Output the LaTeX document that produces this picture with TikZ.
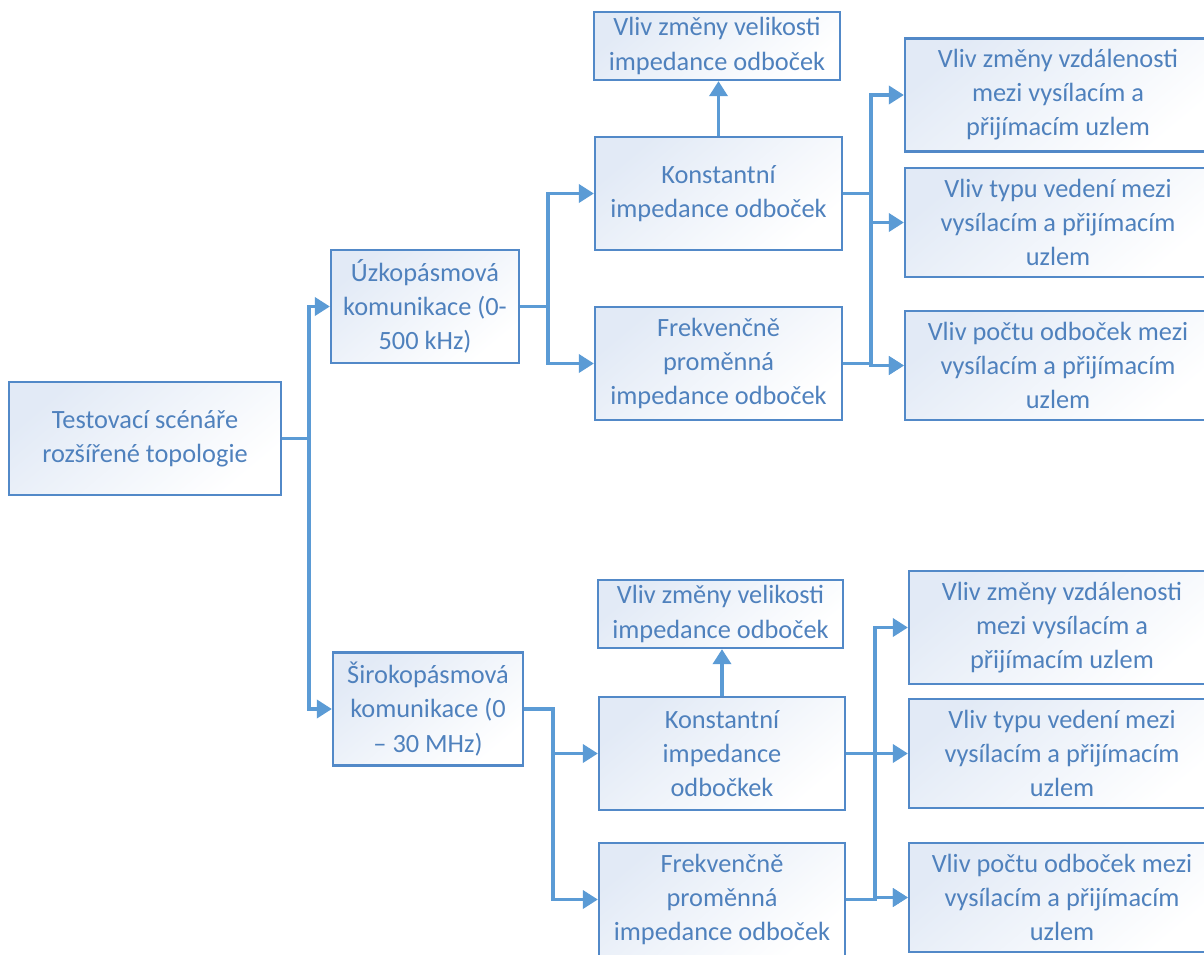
\documentclass[tikz,border=0pt]{standalone}
\usepackage{fontspec}
\setmainfont{Carlito}
\usetikzlibrary{arrows.meta, positioning}
\definecolor{linkblue}{HTML}{5B9BD5}
\definecolor{edgeblue}{HTML}{5289C8}
\definecolor{textblue}{HTML}{4F81BD}
\definecolor{fillblue}{HTML}{E2EAF6}
\tikzset{box/.style={draw=edgeblue,line width=1.3pt,top color=fillblue,bottom color=white,shading angle=40,
                     text=textblue,align=center,inner sep=0pt,font=\fontsize{15pt}{19.4pt}\selectfont},
         tall/.style={box,minimum height=2.26cm},
         flat/.style={box,minimum height=1.36cm},
         arr/.style={draw=linkblue,line width=2pt,-{Triangle[length=3mm,width=3.6mm]}}}

\begin{document}
\begin{tikzpicture}[x=0.02cm,y=-0.02cm]
        \useasboundingbox(0,0)rectangle(1204,954);
        \clip(0,0)rectangle(1204,954);

        \node[tall, minimum width=5.44cm](root)at(145,438.5){Testovací scénáře\\rozšířené topologie};

        \node[tall, minimum width=3.76cm](uzk)at(425,306.5){Úzkopásmová\\komunikace (0-\\500 kHz)};
        \node[flat, minimum width=4.92cm](vel1)at(717,46){Vliv změny velikosti\\impedance odboček};
        \node[tall, minimum width=4.94cm](kon1)at(718.5,193.5){Konstantní\\impedance odboček};
        \node[tall, minimum width=4.94cm](frek1)at(718.5,363.5){Frekvenčně\\proměnná\\impedance odboček};
        \node[tall, minimum width=6.12cm](vz1)at(1058,95){Vliv změny vzdálenosti\\mezi vysílacím a\\přijímacím uzlem};
        \node[tall, minimum width=6.12cm, minimum height=2.18cm](typ1)at(1058,222.5){Vliv typu vedení mezi\\vysílacím a přijímacím\\uzlem};
        \node[tall, minimum width=6.12cm, minimum height=2.18cm](poc1)at(1058,365.5){Vliv počtu odboček mezi\\vysílacím a přijímacím\\uzlem};

        \node[tall, minimum width=3.8cm](sir)at(428,709){Širokopásmová\\komunikace (0\\– 30 MHz)};
        \node[flat, minimum width=4.9cm](vel2)at(720.5,614){Vliv změny velikosti\\impedance odboček};
        \node[tall, minimum width=4.92cm](kon2)at(722,753.5){Konstantní\\impedance\\odbočkek};
        \node[tall, minimum width=4.92cm](frek2)at(722,899.5){Frekvenčně\\proměnná\\impedance odboček};
        \node[tall, minimum width=6.12cm](vz2)at(1062,627.5){Vliv změny vzdálenosti\\mezi vysílacím a\\přijímacím uzlem};
        \node[tall, minimum width=6.12cm, minimum height=2.18cm](typ2)at(1062,753.5){Vliv typu vedení mezi\\vysílacím a přijímacím\\uzlem};
        \node[tall, minimum width=6.12cm, minimum height=2.18cm](poc2)at(1062,897.5){Vliv počtu odboček mezi\\vysílacím a přijímacím\\uzlem};

        \draw[arr](root.east)--++(27,0)|-(uzk.west);
        \draw[arr](root.east)--++(27,0)|-(sir.west);

        \draw[arr](uzk.east)--++(28,0)|-(kon1.west);
        \draw[arr](uzk.east)--++(28,0)|-(frek1.west);
        \draw[arr](kon1.north)--(kon1.north|-vel1.south);
        \draw[arr](kon1.east)--++(28,0)|-(vz1.west);
        \draw[arr](kon1.east)--++(28,0)|-(typ1.west);
        \draw[arr](kon1.east)--++(28,0)|-(poc1.west);
        \draw[arr](frek1.east)--++(28,0)|-(poc1.west);

        \draw[arr](sir.east)--++(29,0)|-(kon2.west);
        \draw[arr](sir.east)--++(29,0)|-(frek2.west);
        \draw[arr](kon2.north)--(kon2.north|-vel2.south);
        \draw[arr](kon2.east)--++(29,0)|-(vz2.west);
        \draw[arr](kon2.east)--++(29,0)|-(poc2.west);
        \draw[arr](kon2.east)--(typ2.west);
        \draw[arr](frek2.east)--++(29,0)|-(poc2.west);
    \end{tikzpicture}
\end{document}
